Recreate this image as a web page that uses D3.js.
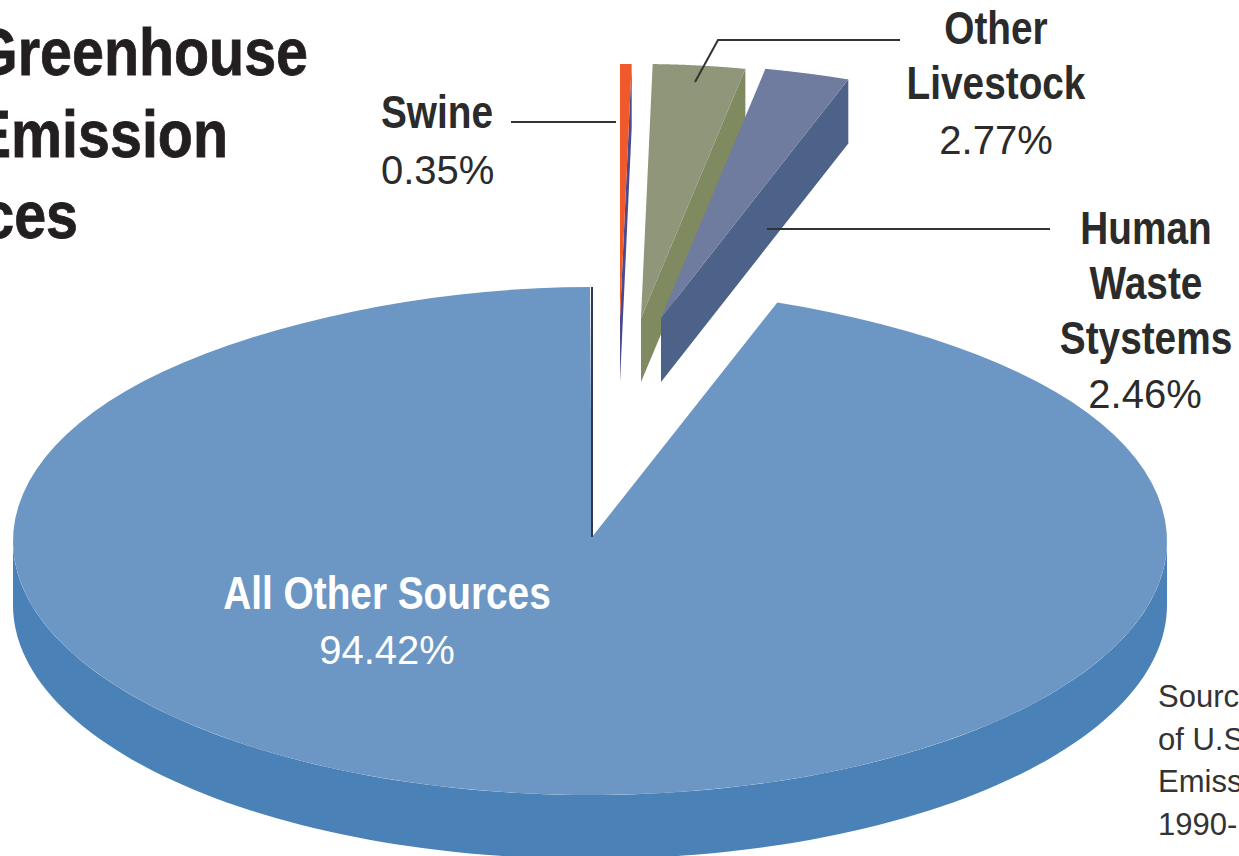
<!DOCTYPE html>
<html lang="en">
<head>
    <meta charset="UTF-8">
    <title>Greenhouse Emission Sources</title>
    <script src="https://d3js.org/d3.v7.min.js"></script>
    <style>
        html, body { margin: 0; padding: 0; background: #fff; overflow: hidden; }
        svg { display: block; }
        .bold { font-family: "Liberation Sans", sans-serif; font-weight: 700; }
        .reg { font-family: "Liberation Sans", sans-serif; font-weight: 400; }
    </style>
</head>
<body>
<script>
    // Slices in clockwise order from the top of the pie
    const categories = ['Swine', 'Other Livestock', 'Human Waste Systems', 'All Other Sources'];
    const shares = [0.35, 2.77, 2.46, 94.42];
    const faceColors = ['#f0592b', '#8f9679', '#6f7b9f', '#6c97c5'];
    const sideColors = ['#4a4a8c', '#7f8a60', '#4c6288', '#4a82b8'];

    const titleLines = ['Greenhouse', 'Emission', 'Sources'];
    const sourceLines = ['Source', 'of U.S.', 'Emissions', '1990-'];

    const width = 1239, height = 856;
    const center = [590, 541];      // middle of the big ellipse
    const mainApex = [592, 537];
    const rx = 577, ry = 254, depth = 64;
    // where the apex of each pulled out slice ends up
    const apexes = [[620, 318], [641, 318], [661, 318]];

    const svg = d3.select('body').append('svg')
        .attr('width', width)
        .attr('height', height);

    const arcs = d3.pie().sort(null).value(d => d)(shares);

    // Pie radius 1 is mapped to the ellipse; far side gets squeezed a little
    const scaleX = d3.scaleLinear().domain([0, 1]).range([0, rx]);
    const scaleY = d3.scaleLinear().domain([0, 1]).range([0, ry]);
    const rimPoint = (t, origin) => {
        const squeeze = 1 - 0.08 * Math.pow(Math.max(0, Math.cos(t)), 6);
        return [origin[0] + scaleX(Math.sin(t)) * squeeze, origin[1] - scaleY(Math.cos(t))];
    };
    const rim = (a0, a1, origin) => d3.range(0, 121).map(i => rimPoint(a0 + (a1 - a0) * i / 120, origin));
    const line = d3.line();
    const down = p => [p[0], p[1] + depth];

    // Big slice: side wall first, only the front half shows
    const main = arcs[3];
    const front = rim(Math.PI / 2, Math.PI * 1.5, center);
    svg.append('path')
        .attr('d', line(front.concat(front.map(down).reverse())) + 'Z')
        .attr('fill', sideColors[3]);
    svg.append('path')
        .attr('d', line([mainApex].concat(rim(main.startAngle, main.endAngle, center))) + 'Z')
        .attr('fill', faceColors[3]);
    // dark inner wall along the cut
    svg.append('path')
        .attr('d', line([rimPoint(main.endAngle, [mainApex[0], center[1]]), mainApex]))
        .attr('stroke', '#2c3a55')
        .attr('stroke-width', 2)
        .attr('fill', 'none');

    // Pulled out slices, drawn right to left like the original overlap
    [0, 1, 2].forEach(i => {
        const a = arcs[i], apex = apexes[i];
        const edge = rimPoint(a.endAngle, apex);
        svg.append('path')
            .attr('d', line([apex, edge, down(edge), down(apex)]) + 'Z')
            .attr('fill', sideColors[i]);
        svg.append('path')
            .attr('d', line([apex].concat(rim(a.startAngle, a.endAngle, apex))) + 'Z')
            .attr('fill', faceColors[i]);
    });

    // Title, runs off the left edge. No narrow font here so squeeze the bold one
    svg.append('g').selectAll('text')
        .data(titleLines)
        .enter()
        .append('text')
        .attr('class', 'bold')
        .attr('transform', (d, i) => `translate(${[308, 228, 78][i]},${[75, 157, 238][i]}) scale(0.87,1)`)
        .attr('text-anchor', 'end')
        .attr('font-size', 66)
        .attr('fill', '#231f20')
        .attr('stroke', '#231f20')
        .attr('stroke-width', 0.8)
        .text(d => d);

    // Leader lines
    const leaders = [
        [[511, 122], [616, 122]],
        [[695, 82], [718, 40], [900, 40]],
        [[767, 229], [1050, 229]]
    ];
    svg.append('g').selectAll('path')
        .data(leaders)
        .enter()
        .append('path')
        .attr('d', d => line(d))
        .attr('fill', 'none')
        .attr('stroke', '#333')
        .attr('stroke-width', 2);

    // Slice labels
    const pct = v => v.toFixed(2) + '%';
    const labelText = [
        { x: 381, anchor: 'start', y: 128, cls: 'bold', text: categories[0] },
        { x: 381, anchor: 'start', y: 184, cls: 'reg', text: pct(shares[0]) },
        { x: 996, anchor: 'middle', y: 44, cls: 'bold', text: 'Other' },
        { x: 996, anchor: 'middle', y: 99, cls: 'bold', text: 'Livestock' },
        { x: 996, anchor: 'middle', y: 154, cls: 'reg', text: pct(shares[1]) },
        { x: 1146, anchor: 'middle', y: 244, cls: 'bold', text: 'Human' },
        { x: 1146, anchor: 'middle', y: 299, cls: 'bold', text: 'Waste' },
        { x: 1146, anchor: 'middle', y: 354, cls: 'bold', text: 'Stystems' },
        { x: 1145, anchor: 'middle', y: 408, cls: 'reg', text: pct(shares[2]) },
        { x: 387, anchor: 'middle', y: 609, cls: 'bold', text: categories[3], fill: '#fff' },
        { x: 387, anchor: 'middle', y: 664, cls: 'reg', text: pct(shares[3]), fill: '#fff' }
    ];
    svg.append('g').selectAll('text')
        .data(labelText)
        .enter()
        .append('text')
        .attr('class', d => d.cls)
        .attr('transform', d => `translate(${d.x},${d.y}) scale(${d.cls === 'bold' ? 0.825 : 1},1)`)
        .attr('text-anchor', d => d.anchor)
        .attr('font-size', d => d.cls === 'bold' ? 47 : 40)
        .attr('fill', d => d.fill || '#2b2b2b')
        .text(d => d.text);

    // Source note, cut by the right edge
    svg.append('g').selectAll('text')
        .data(sourceLines)
        .enter()
        .append('text')
        .attr('class', 'reg')
        .attr('x', 1158)
        .attr('y', (d, i) => 707 + i * 42.7)
        .attr('font-size', 31)
        .attr('fill', '#333')
        .text(d => d);
</script>
</body>
</html>
